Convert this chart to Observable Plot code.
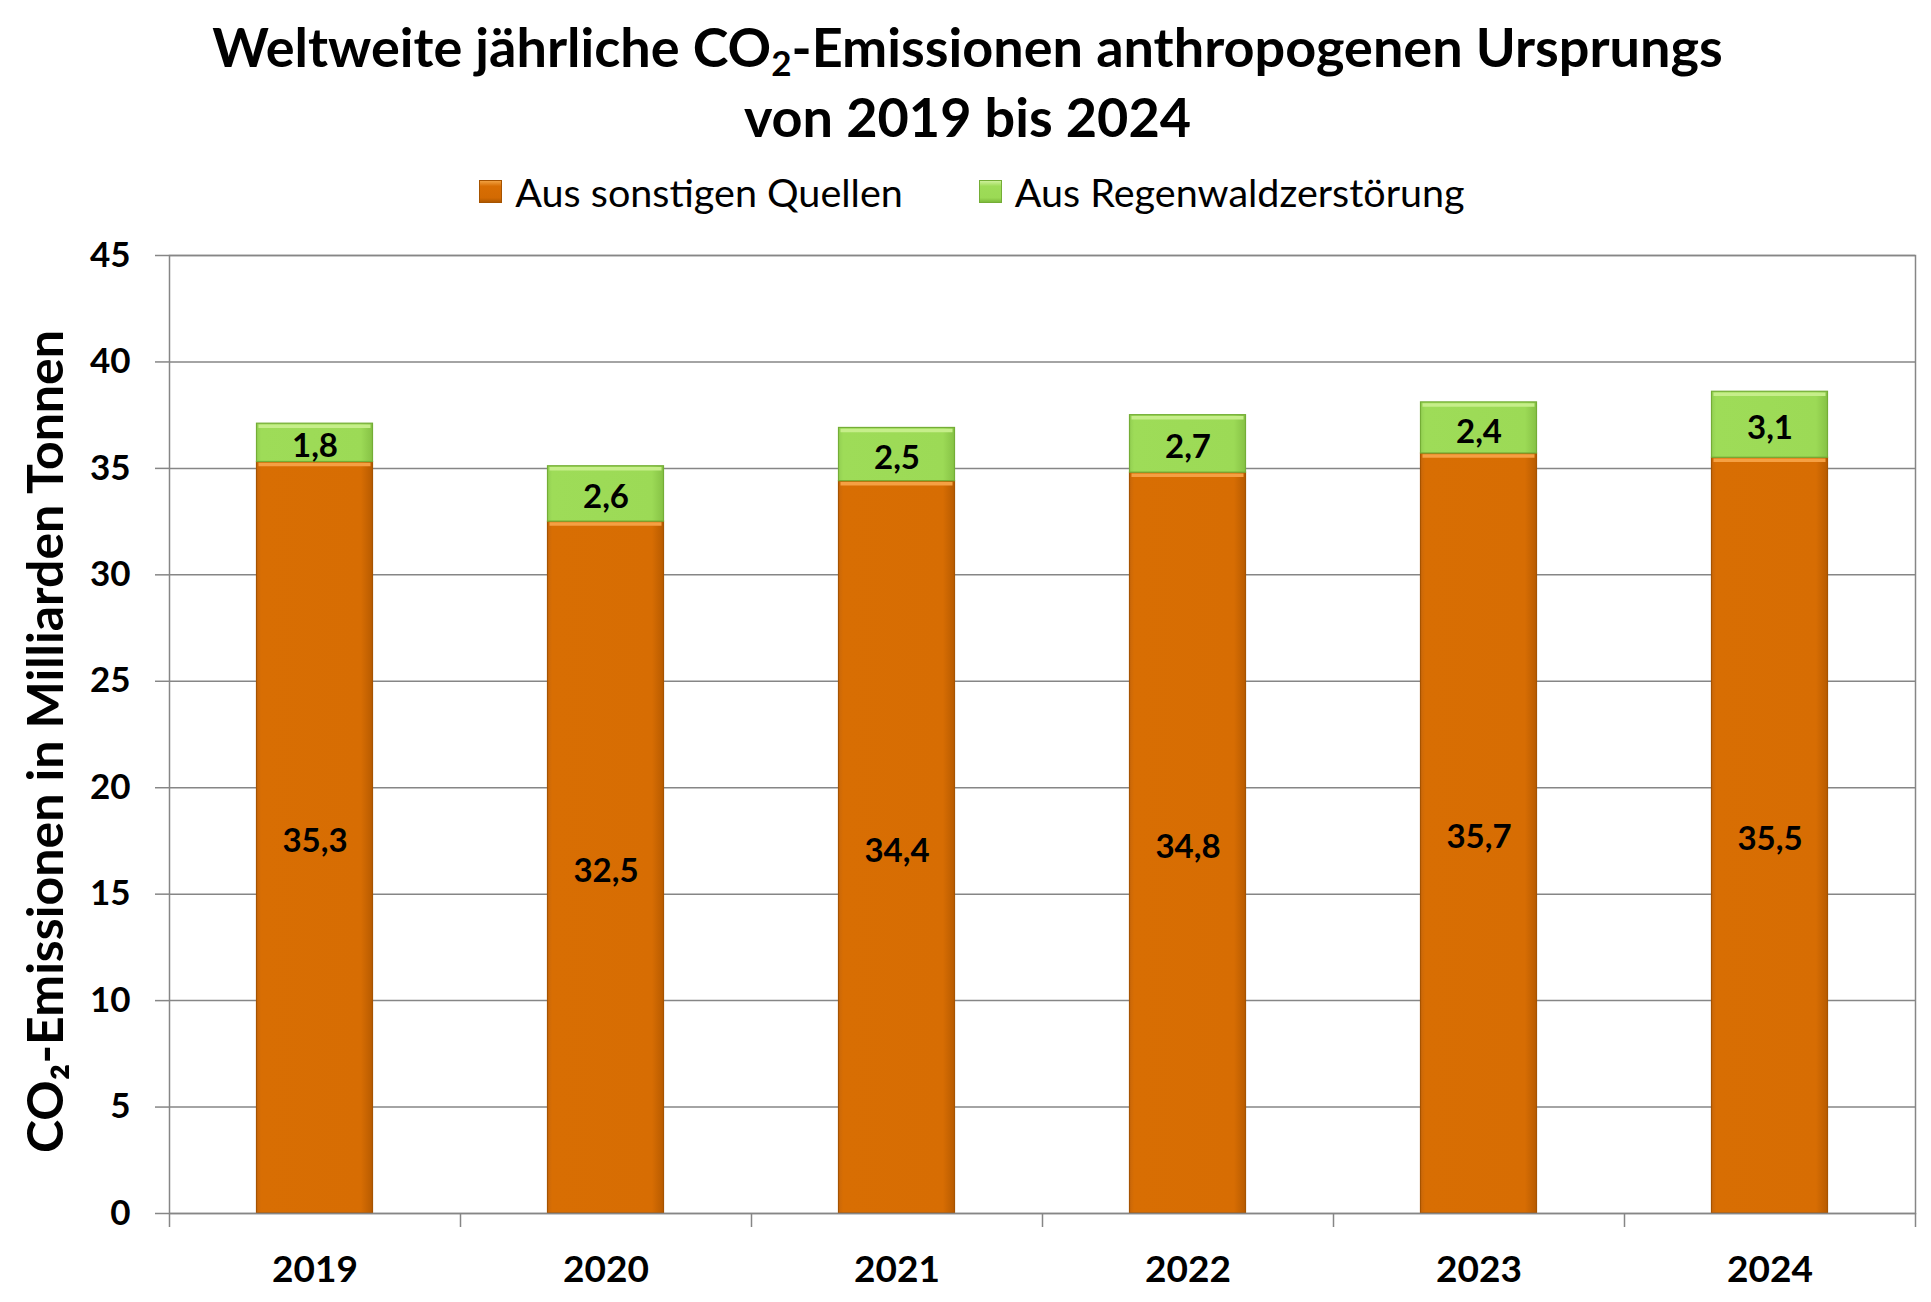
<!DOCTYPE html>
<html>
<head>
<meta charset="utf-8">
<script src="https://cdn.jsdelivr.net/npm/d3@7"></script>
<script src="https://cdn.jsdelivr.net/npm/@observablehq/plot@0.6"></script>
<style>
  html, body { margin: 0; padding: 0; background: #fff; }
  body { width: 1931px; height: 1302px; overflow: hidden; font-family: Lato, sans-serif; }
  #title { text-align: center; font-weight: 700; font-size: 54px; line-height: 70px; padding-top: 12px; color: #000; padding-left: 4px; }
  #title sub { font-size: 0.65em; vertical-align: -0.25em; line-height: 0; }
  #legend { display: flex; justify-content: center; align-items: center; height: 46px; margin-top: 16px; font-size: 39.5px; color: #000; padding-left: 13px; }
  .item { display: flex; align-items: center; margin: 0 38px; }
  .sw { width: 21px; height: 21px; margin-right: 13px; }
  #chart { position: absolute; left: 0; top: 225px; }
</style>
</head>
<body>
<div id="title"></div>
<div id="legend"></div>
<div id="chart"></div>
<script>
// ---- data ----
const years = ["2019", "2020", "2021", "2022", "2023", "2024"];
const series = ["Aus sonstigen Quellen", "Aus Regenwaldzerstörung"];
const sonstige = [35.3, 32.5, 34.4, 34.8, 35.7, 35.5];
const regenwald = [1.8, 2.6, 2.5, 2.7, 2.4, 3.1];
const yTicks = [0, 5, 10, 15, 20, 25, 30, 35, 40, 45];
const titleLines = ["Weltweite jährliche CO<sub>2</sub>-Emissionen anthropogenen Ursprungs", "von 2019 bis 2024"];
const yLabel = "CO₂-Emissionen in Milliarden Tonnen";

// ---- styles ----
const W = 1931, H = 1077;
const mL = 169, mR = 16, mT = 30, mB = 89;
const bw = (W - mL - mR) / years.length;
const barInset = 87.5;
const grid = "#868686";
const fills = ["url(#gO)", "url(#gG)"];
const strokes = ["#A65300", "#74AD36"];
const highlights = ["#F5A043", "#C6EE8A"];
const swatchBg = ["linear-gradient(180deg,#F0A040,#D86E03 25%,#D36A02 80%,#B05800)", "linear-gradient(180deg,#CDF09A,#9EDC58 25%,#9BDA55 80%,#7DBA3C)"];

const rows = [];
years.forEach((y, i) => {
  rows.push({year: y, series: series[0], value: sonstige[i]});
  rows.push({year: y, series: series[1], value: regenwald[i]});
});

document.getElementById("title").innerHTML = titleLines.map(t => `<div>${t}</div>`).join("");
document.getElementById("legend").innerHTML = series.map((s, i) =>
  `<div class="item"><div class="sw" style="background:${swatchBg[i]};border:1px solid ${strokes[i]}"></div><span>${s}</span></div>`).join("");

const fmt = v => v.toFixed(1).replace(".", ",");
const stackOpts = {x: "year", y: "value", z: "series", order: series};

function defs() {
  const d = d3.create("svg:defs");
  const mk = (id, stops) => {
    const g = d.append("linearGradient").attr("id", id).attr("x1", 0).attr("x2", 1).attr("y1", 0).attr("y2", 0);
    stops.forEach(([o, c]) => g.append("stop").attr("offset", o).attr("stop-color", c));
  };
  mk("gO", [[0, "#C8670A"], [0.04, "#D86E03"], [0.9, "#D76D03"], [1, "#B85B00"]]);
  mk("gG", [[0, "#92CF52"], [0.04, "#9EDC58"], [0.9, "#9CDA56"], [1, "#86C245"]]);
  return d.node();
}

const marks = [defs, Plot.gridY(yTicks, {stroke: grid, strokeOpacity: 1, strokeWidth: 1.5})];
series.forEach((s, i) => {
  marks.push(Plot.barY(rows, Plot.filter(d => d.series === s, Plot.stackY({...stackOpts, fill: fills[i], stroke: strokes[i], strokeWidth: 1.2, insetLeft: barInset, insetRight: barInset}))));
  marks.push(Plot.tickY(rows, Plot.filter(d => d.series === s, Plot.stackY2({...stackOpts, stroke: highlights[i], strokeWidth: 3.5, dy: 2.5, insetLeft: barInset + 2, insetRight: barInset + 2}))));
});
marks.push(
  Plot.text(rows, Plot.stackY({...stackOpts, text: d => fmt(d.value), fontSize: 33, fontWeight: 700, fill: "#000", fontFamily: "Lato", dy: 4})),
  Plot.frame({stroke: grid, strokeWidth: 1.5}),
  Plot.ruleX(years, {x: d => d, y1: 0, y2: 0, insetBottom: -14, dx: -bw / 2, stroke: grid, strokeWidth: 1.5}),
  Plot.ruleX(years.slice(-1), {x: d => d, y1: 0, y2: 0, insetBottom: -14, dx: bw / 2, stroke: grid, strokeWidth: 1.5}),
  Plot.axisY(yTicks, {tickSize: 14, tickPadding: 25, stroke: grid, strokeWidth: 1.5, fontSize: 35, fontWeight: 700, fontFamily: "Lato", fill: "#000", label: null}),
  Plot.axisX({tickSize: 0, tickPadding: 42, fontSize: 37, fontWeight: 700, fontFamily: "Lato", fill: "#000", label: null}),
  Plot.text([yLabel], {frameAnchor: "left", textAnchor: "middle", rotate: -90, dx: -123, dy: 7, text: d => d, fontSize: 50, fontWeight: 700, fontFamily: "Lato", fill: "#000"})
);

const chart = Plot.plot({
  width: W, height: H,
  marginLeft: mL, marginRight: mR, marginTop: mT, marginBottom: mB,
  style: {background: "transparent", color: "#000", overflow: "visible"},
  x: {type: "band", domain: years, padding: 0},
  y: {domain: [0, 45]},
  marks
});
document.getElementById("chart").appendChild(chart);
</script>
</body>
</html>
